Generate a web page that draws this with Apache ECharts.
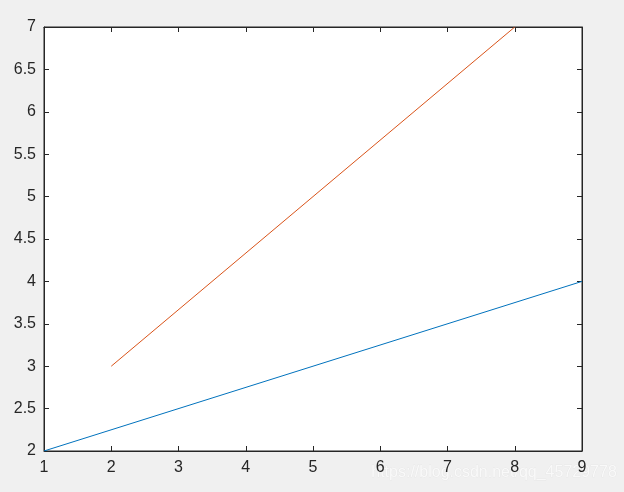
<!DOCTYPE html>
<html>
<head>
<meta charset="UTF-8">
<script src="https://cdn.jsdelivr.net/npm/echarts@6/dist/echarts.min.js"></script>
<style>
  html, body { margin: 0; padding: 0; background: #f0f0f0; }
  #main { width: 624px; height: 492px; }
</style>
</head>
<body>
<div id="main"></div>
<script>
// data
var blueX = [1, 9];
var blueY = [2, 4];
var orangeX = [2, 8];
var orangeY = [3, 7];

function pairs(xs, ys) {
  var out = [];
  for (var i = 0; i < xs.length; i++) out.push([xs[i], ys[i]]);
  return out;
}

var chart = echarts.init(document.getElementById('main'));
var labelStyle = { color: '#262626', fontSize: 16, fontFamily: 'Arial, "Liberation Sans", sans-serif' };
var lineStyle = { color: '#262626', width: 1 };

var option = {
  backgroundColor: '#f0f0f0',
  animation: false,
  grid: { left: 44, top: 27, right: 42, bottom: 41, show: true, backgroundColor: '#fff', borderColor: '#262626', borderWidth: 1 },
  xAxis: [{
    type: 'value', min: 1, max: 9, interval: 1,
    axisLine: { show: true, onZero: false, lineStyle: lineStyle },
    axisTick: { show: true, inside: true, length: 5, lineStyle: lineStyle },
    axisLabel: Object.assign({ margin: 9 }, labelStyle),
    splitLine: { show: false }
  }, {
    type: 'value', min: 1, max: 9, interval: 1, position: 'top',
    axisLine: { show: true, onZero: false, lineStyle: lineStyle },
    axisTick: { show: true, inside: true, length: 5, lineStyle: lineStyle },
    axisLabel: { show: false },
    splitLine: { show: false }
  }],
  yAxis: [{
    type: 'value', min: 2, max: 7, interval: 0.5,
    axisLine: { show: true, onZero: false, lineStyle: lineStyle },
    axisTick: { show: true, inside: true, length: 5, lineStyle: lineStyle },
    axisLabel: Object.assign({ margin: 8 }, labelStyle),
    splitLine: { show: false }
  }, {
    type: 'value', min: 2, max: 7, interval: 0.5, position: 'right',
    axisLine: { show: true, onZero: false, lineStyle: lineStyle },
    axisTick: { show: true, inside: true, length: 5, lineStyle: lineStyle },
    axisLabel: { show: false },
    splitLine: { show: false }
  }],
  series: [{
    type: 'line', data: pairs(blueX, blueY), showSymbol: false,
    lineStyle: { color: '#0072BD', width: 1 }
  }, {
    type: 'line', data: pairs(orangeX, orangeY), showSymbol: false,
    lineStyle: { color: '#D95319', width: 1 }
  }],
  graphic: [{
    type: 'text', left: 371, top: 464,
    style: { text: 'https://blog.csdn.net/qq_45729778', fill: '#f9f9f9', font: '16px Arial, "Liberation Sans", sans-serif',
      stroke: '#e2e2e2', lineWidth: 0.5 }
  }]
};

chart.setOption(option);
</script>
</body>
</html>
